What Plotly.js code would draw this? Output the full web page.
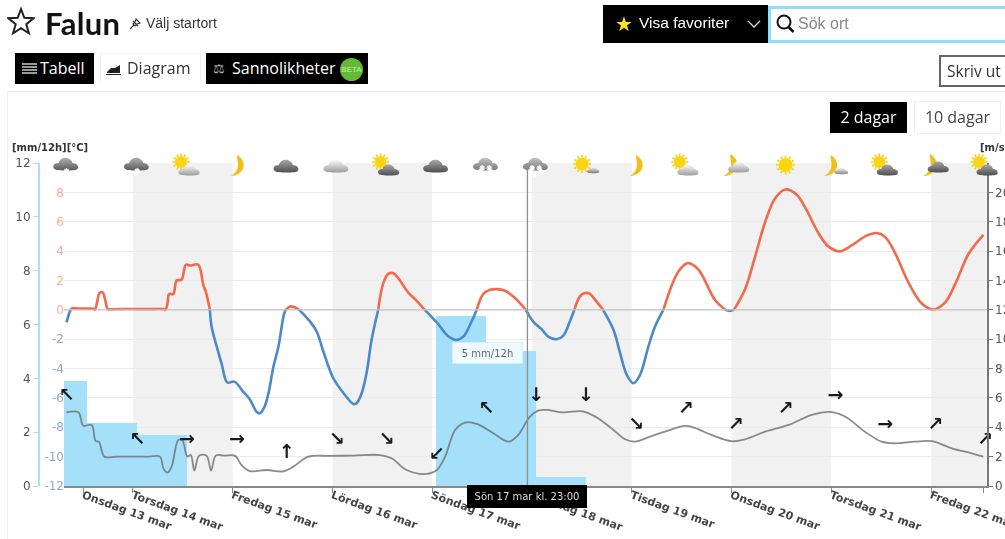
<!DOCTYPE html>
<html lang="sv">
<head>
<meta charset="utf-8">
<title>Falun</title>
<script src="https://cdn.plot.ly/plotly-3.0.1.min.js"></script>
<style>
html,body{margin:0;padding:0;background:#fff;overflow:hidden;width:1005px;height:539px}
#wrap{position:relative;width:1005px;height:539px;overflow:hidden;font-family:"Liberation Sans",Arial,sans-serif;filter:blur(0.35px)}
#chart{position:absolute;left:0;top:0;width:1005px;height:539px}
.a{position:absolute;white-space:nowrap;box-sizing:border-box}
.blk{background:#000;color:#fff}
.tab{font-family:"Open Sans",sans-serif;font-size:16px;line-height:31px}
</style>
</head>
<body>
<div id="wrap">
  <div class="a" style="left:7px;top:91px;width:998px;height:448px;border-top:1px solid #e9e9e9;border-left:1px solid #efefef"></div>
  <div id="chart" class="a"></div>
  <svg class="a" style="left:7px;top:6px" width="28" height="30" viewBox="0 0 28 30"><path d="M14 3l3.3 8.8 9.4.5-7.4 5.9 2.6 9.1L14 22.1 6.100 27.300l2.600-9.100L1.300 12.300l9.400-.5z" fill="none" stroke="#222" stroke-width="2"/></svg>
  <div class="a" style="left:45px;top:2px;font-family:Lato,sans-serif;font-weight:700;font-size:31px;line-height:42px;color:#111;letter-spacing:.3px">Falun</div>
  <svg class="a" style="left:129px;top:17px" width="13" height="13" viewBox="0 0 13 13"><path d="M1 12l4-4M4 4l5 5M7 2l4 4-3 1-2 2-2-2 2-2z" fill="none" stroke="#333" stroke-width="1.100"/></svg>
  <div class="a" style="left:146px;top:14px;font-size:14px;line-height:18px;color:#333">Välj startort</div>

  <div class="a blk" style="left:603px;top:5px;width:165px;height:38px"></div>
  <div class="a" style="left:615px;top:12px;font-size:20px;line-height:24px;color:#ffe41a">&#9733;</div>
  <div class="a" style="left:639px;top:13px;font-size:15.500px;line-height:20px;color:#fff;">Visa favoriter</div>
  <svg class="a" style="left:746px;top:19px" width="16" height="10"><path d="M2 2l6 6 6-6" fill="none" stroke="#ddd" stroke-width="1.300"/></svg>
  <div class="a" style="left:768px;top:6px;width:240px;height:37px;border:3px solid #8fdcfb;background:#fff"></div>
  <svg class="a" style="left:775px;top:13px" width="22" height="22"><circle cx="9" cy="9" r="6.500" fill="none" stroke="#111" stroke-width="2"/><path d="M13.500 14l5 5" stroke="#111" stroke-width="2.500"/></svg>
  <div class="a" style="left:798px;top:14px;font-size:16px;line-height:20px;color:#888">Sök ort</div>

  <div class="a blk tab" style="left:15px;top:53px;width:79px;height:31px;padding-left:25px">Tabell</div>
  <svg class="a" style="left:21px;top:62px" width="17" height="14"><path d="M1 2h15M1 5h15M1 8h15M1 11h15" stroke="#ccc" stroke-width="1.500"/></svg>
  <div class="a tab" style="left:100px;top:53px;width:101px;height:31px;padding-left:26px;color:#333;border:1px solid #f3f3f3;border-bottom:none;line-height:29px">Diagram</div>
  <svg class="a" style="left:105px;top:62px" width="17" height="14"><path d="M1 12h15v1H1zM2 10l4-4h4l5-3v8H2z" fill="#222"/></svg>
  <div class="a blk tab" style="left:206px;top:53px;width:162px;height:31px;padding-left:26px">Sannolikheter</div>
  <div class="a" style="left:213px;top:60px;font-size:13px;line-height:17px;color:#bbb">&#9878;</div>
  <div class="a" style="left:340px;top:58px;width:23px;height:23px;border-radius:50%;background:#5fbb33;color:#cfeab8;font-size:8px;line-height:23px;text-align:center">BETA</div>

  <div class="a" style="left:939px;top:55px;width:80px;height:32px;border:2px solid #666;font-family:'Open Sans',sans-serif;font-size:15.500px;line-height:28px;padding-left:6px;color:#333">Skriv ut</div>
  <div class="a blk" style="left:830px;top:102px;width:77px;height:31px;font-family:'Open Sans',sans-serif;font-size:16px;line-height:31px;text-align:center">2 dagar</div>
  <div class="a" style="left:914px;top:101px;width:87px;height:33px;border:1px solid #f0f0f0;font-family:'Open Sans',sans-serif;font-size:16px;line-height:31px;text-align:center;color:#444">10 dagar</div>
  <div class="a" style="left:12px;top:141px;font-family:'DejaVu Sans',sans-serif;font-weight:700;font-size:10px;line-height:14px;color:#333">[mm/12h][°C]</div>
  <div class="a" style="left:980px;top:141px;font-family:'DejaVu Sans',sans-serif;font-weight:700;font-size:10px;line-height:14px;color:#333">[m/s]</div>
</div>
<script>
// Precipitation, mm per 12 h, one value per 12-hour block (hours after Wed 13 mar 00:00)
const precipStart = [1,13,25,37,49,61,73,85,97,109,121];
const precipMm    = [3.9,2.33,1.9,0,0,0,0,0,6.3,5,0.35];

// Temperature, degrees C
const tempHour = [8,8.7,9,9.4,11,13,14.45,14.85,15.4,15.9,16.7,17.3,17.9,18.5,21,25,29,31.3,31.8,32.3,32.7,33.7,34.5,35.7,36.7,37.7,39.7,40.9,41.5,42.5,42.9,43.7,45.3,46.7,48.4,50.5,52.1,53.7,54.5,55.5,56.5,57.8,59,60.2,60.7,61.8,63,64,66.6,68.2,69.8,72.2,75,77,77.8,79,80.2,81.4,83,84.2,85.4,86.5,87.8,90.2,91.8,94.2,97.1,99.9,101.9,103.5,105.1,106.7,108.3,109.9,111.5,113.5,115.5,117.5,118.5,120.3,122.3,123.9,125.9,127.5,129.1,130.2,131.5,132.7,133.9,135.5,137.1,139.6,141.2,142.8,144.4,146,148,149.6,151.6,155.2,157.5,160,164,166.5,167.6,168.6,171.2,173.7,176,178.5,181,183.7,186,188.9,191.3,194.1,197,200.5,203,205,207.3,210.5,213.7,216.6,219.4,222.2,225,228.6];
const tempC = [-0.86,-0.2,0,0.1,0.08,0.08,0.07,0,0.57,1.13,1.18,0.68,0.05,0.03,0.05,0.05,0.05,0.05,0,0.45,1.07,1.07,2,2.05,3.07,3.02,3.07,1.7,1.25,0,-1.14,-2.05,-3.64,-4.95,-4.89,-5.57,-6.09,-6.93,-7.05,-6.7,-5.8,-3.86,-2.5,-0.45,0,0.23,0.16,0,-0.8,-1.48,-2.84,-4.66,-5.8,-6.41,-6.36,-5.7,-4.3,-2.05,0,1.8,2.45,2.5,2.16,1.18,0.75,0,-0.86,-1.82,-2.05,-1.82,-1.02,0,1.09,1.36,1.41,1.3,0.9,0.34,0,-0.8,-1.32,-1.82,-2,-1.77,-0.8,0,0.9,1.14,1.09,0.57,0,-1.36,-2.95,-4.43,-5,-4.43,-2.5,-1.14,0,2.6,3.18,2.75,0.68,0,-0.07,0,1.36,3.64,5.9,7.6,8.2,7.84,6.82,5.23,4.32,3.98,4.4,5.05,5.23,4.95,3.9,1.9,0.45,0.02,0.5,2,3.8,5.11];

// Wind speed, m/s
const windHour = [8,10.85,12.05,14.05,15,15.8,17.1,20,24,28,30.5,31.3,32.3,33.3,34.9,35.9,37.07,37.9,38.75,39.9,41.7,42.8,43.9,46,48.5,50.1,52.1,56.2,60.2,62.6,66.2,71.4,77,83.4,86.2,89.8,94.6,97.1,99.1,101.5,103.9,106.7,110.7,114.3,116.7,119.5,121.5,123.5,127.5,132.3,135.5,139.6,142.4,144.8,148.4,152,156.8,158.8,163.2,168,171.2,176.1,181.7,187.3,191.7,195.3,200.1,204.1,207.3,212.1,216.2,221,225.8,228.6];
const windMs = [5.02,5.02,4.11,4.16,3.07,3.02,2,2,2,2,2,1.2,0.91,1.32,3.14,3.09,2,2.11,1.05,2.07,2.07,1.05,2.07,2.07,2.07,1.43,1.02,1.09,1,1.32,2,2.05,2.07,2.11,1.89,1.09,0.82,1.09,2,3.82,4.32,4.23,3.59,3.02,3.48,4.73,5.14,5.18,5.02,5.09,4.68,3.82,3.18,3.02,3.36,3.7,4.09,4,3.48,3.05,3.18,3.7,4.16,4.84,5.05,4.73,3.7,3.02,2.91,3.02,3.05,2.57,2.23,2];

// Wind arrows and weather symbols, one per forecast step
const stepHour  = [8,25,37,49,61,73,85,97,109,121,133,145,157,169,181,193,205,217,229];
const arrowText = ['↖','↖','→','→','↑','↘','↘','↙','↖','↓','↓','↘','↗','↗','↗','→','→','↗','↗'];
const arrowLevel= [6.1,3.1,3.1,3.1,2.2,3.1,3.1,2.1,5.2,6.1,6.1,4.15,5.2,4.15,5.2,6.1,4.15,4.15,3.1];
const symbols   = ['snow','snow','sunlight','moon','dark','light','sundark','dark','hsnow','hsnow','sunsmall','moon','sunlight','moonlight','sun','moonsmall','sundark','moondark','sundark'];

// Axes
const dayTicks  = [12,24,48,72,96,120,144,168,192,216,228.7];
const dayLabels = ['Onsdag 13 mar','Torsdag 14 mar','Fredag 15 mar','Lördag 16 mar','Söndag 17 mar','Måndag 18 mar','Tisdag 19 mar','Onsdag 20 mar','Torsdag 21 mar','Fredag 22 mar',''];
const shadedDays = [[24,48],[72,96],[120,144],[168,192],[216,229.4]];
const tempTicks = [-12,-10,-8,-6,-4,-2,0,2,4,6,8];
const windTicks = [0,2,4,6,8,10,12,14,16,18,20];
const precipTicks = [0,2,4,6,8,10,12];
const cursorHour = 118.9;

const W=1005,H=539,L=64,R=986.7,T=163,B=486,X0=7.4,X1=229.4;
const warm = tempC.map(v=>v>=0?v:null);
const cold = tempC.map(v=>v<=0?v:null);
const spline = {shape:'spline',smoothing:1};

const traces = [
 {type:'bar',x:precipStart,y:precipMm,width:12,offset:0,yaxis:'y',marker:{color:'#a5e0fb',line:{width:0}},hoverinfo:'skip'},
 {type:'scatter',mode:'lines',x:tempHour,y:cold,yaxis:'y2',line:Object.assign({color:'#4a8acb',width:2.6},spline),hoverinfo:'skip'},
 {type:'scatter',mode:'lines',x:tempHour,y:warm,yaxis:'y2',line:Object.assign({color:'#f2694b',width:2.6},spline),hoverinfo:'skip'},
 {type:'scatter',mode:'lines',x:windHour,y:windMs,yaxis:'y3',line:Object.assign({color:'rgba(110,110,110,.8)',width:1.8},spline),hoverinfo:'skip'},
 {type:'scatter',mode:'text',x:stepHour,y:arrowLevel,text:arrowText,yaxis:'y3',textposition:'middle center',cliponaxis:false,textfont:{family:'DejaVu Sans',size:19,weight:700,color:'#1a1a1a'},hoverinfo:'skip'}
];

function cloud(a,b,dx,dy,s){
 const id='g'+a.slice(1)+b.slice(1);
 return `<g transform="translate(${dx||0} ${dy||0}) scale(${s||1})"><defs><linearGradient id="${id}" x1="0" y1="0" x2="0" y2="1"><stop offset="0" stop-color="${a}"/><stop offset="1" stop-color="${b}"/></linearGradient></defs><path d="M3 19c-3-3 0-6 4-6 1-4 5-6 9-5 3 1 5 3 5 5 4 0 7 3 5 6-1 2-21 2-23 0z" fill="url(#${id})"/></g>`;
}
const DARK=['#a8a8a8','#4f4f4f'],LIGHT=['#fbfbfb','#9d9d9d'];
function sunG(cx,cy,r){
 let s='';for(let i=0;i<12;i++){const t=i*Math.PI/6;s+=`<path d="M${cx+r*Math.cos(t)} ${cy+r*Math.sin(t)}L${cx+(r+2.5)*Math.cos(t)} ${cy+(r+2.5)*Math.sin(t)}" stroke="#f8cf10" stroke-width="1.600"/>`;}
 return s+`<circle cx="${cx}" cy="${cy}" r="${r}" fill="#fbd512"/>`;
}
const moonG=(dx,dy,s)=>`<g transform="translate(${dx} ${dy}) scale(${s})"><path d="M10 1c6 3 8 9 6 14-2 4-7 7-12 7 5-3 7-7 7-11 0-4-1-7-1-10z" fill="#f4bd17"/></g>`;
const flakes=(n)=>{let s='';const pts=n>1?[[8,19],[14,21],[20,19],[11,15],[18,15]]:[[15,18]];pts.forEach(p=>{s+=`<path d="M${p[0]-3} ${p[1]}h6M${p[0]} ${p[1]-3}v6M${p[0]-2} ${p[1]-2}l4 4M${p[0]-2} ${p[1]+2}l4-4" stroke="#fff" stroke-width="1.200"/>`});return s;};
const iconBody={
 snow:()=>cloud('#b0b0b0','#5a5a5a',0,-3)+flakes(1),
 hsnow:()=>cloud('#c4c4c4','#777777',0,-3)+flakes(2),
 dark:()=>cloud(DARK[0],DARK[1],0,-1),
 light:()=>cloud(LIGHT[0],LIGHT[1],0,-1),
 sunlight:()=>sunG(9,9,6)+cloud(LIGHT[0],LIGHT[1],5,5,.85),
 sundark:()=>sunG(9,9,6)+cloud(DARK[0],DARK[1],5,5,.85),
 sunsmall:()=>sunG(11,11,6.5)+cloud(LIGHT[0],'#777777',15,10,.5),
 sun:()=>sunG(15,12,7),
 moon:()=>moonG(5,1,1),
 moonlight:()=>moonG(-1,0,1.05)+cloud(LIGHT[0],LIGHT[1],6,2,.85),
 moonsmall:()=>moonG(0,1,1)+cloud(LIGHT[0],'#888888',13,10,.55),
 moondark:()=>moonG(-1,0,1.05)+cloud(DARK[0],DARK[1],6,2,.85)
};
const images = stepHour.map((h,i)=>({
 source:'data:image/svg+xml;charset=utf-8,'+encodeURIComponent(`<svg xmlns="http://www.w3.org/2000/svg" width="30" height="24" viewBox="0 0 30 24">${iconBody[symbols[i]]()}</svg>`),
 xref:'paper',yref:'paper',x:(L+(h-X0)/(X1-X0)*(R-L))/W,y:1-165/H,sizex:30/W,sizey:24/H,xanchor:'center',yanchor:'middle',sizing:'stretch',layer:'above'
}));

const shapes = shadedDays.map(d=>({type:'rect',layer:'below',xref:'x',yref:'paper',x0:d[0],x1:d[1],y0:1-B/H,y1:1-T/H,fillcolor:'#f1f1f1',line:{width:0}}));
shapes.push({type:'line',layer:'above',xref:'paper',yref:'y2',x0:L/W,x1:R/W,y0:0,y1:0,line:{color:'#c4c4c4',width:1.300}});
shapes.push({type:'line',layer:'above',xref:'x',yref:'paper',x0:cursorHour,x1:cursorHour,y0:1-B/H,y1:1-T/H,line:{color:'#8f8f8f',width:1.300}});

const colorTick = v => `<span style="color:${v<0?'#90a9c9':'#f4ab98'}">${v}</span>`;

const layout = {
 width:W,height:H,margin:{l:0,r:0,t:0,b:0},paper_bgcolor:'rgba(0,0,0,0)',plot_bgcolor:'rgba(0,0,0,0)',showlegend:false,bargap:0,barmode:'overlay',
 font:{family:'DejaVu Sans',size:12,color:'#555'},
 xaxis:{domain:[L/W,R/W],range:[X0,X1],tickmode:'array',tickvals:dayTicks,ticktext:dayLabels,tickangle:20,ticks:'outside',ticklen:5,tickcolor:'#888',showline:true,linecolor:'#888',linewidth:2,showgrid:false,zeroline:false,tickfont:{family:'DejaVu Sans',size:11,weight:700,color:'#444'},ticklabeloverflow:'allow',ticklabelstandoff:-8,anchor:'y',fixedrange:true},
 yaxis:{domain:[1-B/H,1-T/H],range:[0,12],tickmode:'array',tickvals:precipTicks,anchor:'free',position:39/W,side:'left',showline:true,linecolor:'#a8e0f8',linewidth:2,ticks:'outside',ticklen:5,tickcolor:'#a8e0f8',showgrid:false,zeroline:false,tickfont:{size:12,color:'#555'},fixedrange:true},
 yaxis2:{domain:[1-B/H,1-T/H],range:[-12,10],overlaying:'y',tickmode:'array',tickvals:tempTicks,ticktext:tempTicks.map(colorTick),anchor:'free',position:L/W,side:'left',showline:false,ticks:'',showgrid:false,zeroline:false,tickfont:{size:12},fixedrange:true},
 yaxis3:{domain:[1-B/H,1-T/H],range:[0,22],overlaying:'y',tickmode:'array',tickvals:windTicks,anchor:'x',side:'right',showline:true,linecolor:'#777',linewidth:2,ticks:'outside',ticklen:4,tickcolor:'#777',showgrid:true,gridcolor:'#ebebeb',gridwidth:1,zeroline:false,tickfont:{size:12,color:'#555'},ticklabeloverflow:'allow',fixedrange:true},
 shapes:shapes,images:images,
 annotations:[
  {xref:'paper',yref:'paper',x:487.5/W,y:1-353/H,text:'5 mm/12h',showarrow:false,font:{family:'DejaVu Sans',size:10,color:'#666'},bgcolor:'#eefaff',bordercolor:'#d5eef8',borderwidth:1,width:67,height:18,xanchor:'center',yanchor:'middle'},
  {xref:'x',yref:'paper',x:cursorHour,y:1-496.500/H,text:'Sön 17 mar kl. 23:00',showarrow:false,font:{family:'DejaVu Sans',size:10,color:'#ddd'},bgcolor:'#000',borderwidth:0,width:118,height:21,xanchor:'center',yanchor:'middle'}
 ]
};
Plotly.newPlot('chart',traces,layout,{staticPlot:true,displayModeBar:false});
</script>
</body>
</html>
